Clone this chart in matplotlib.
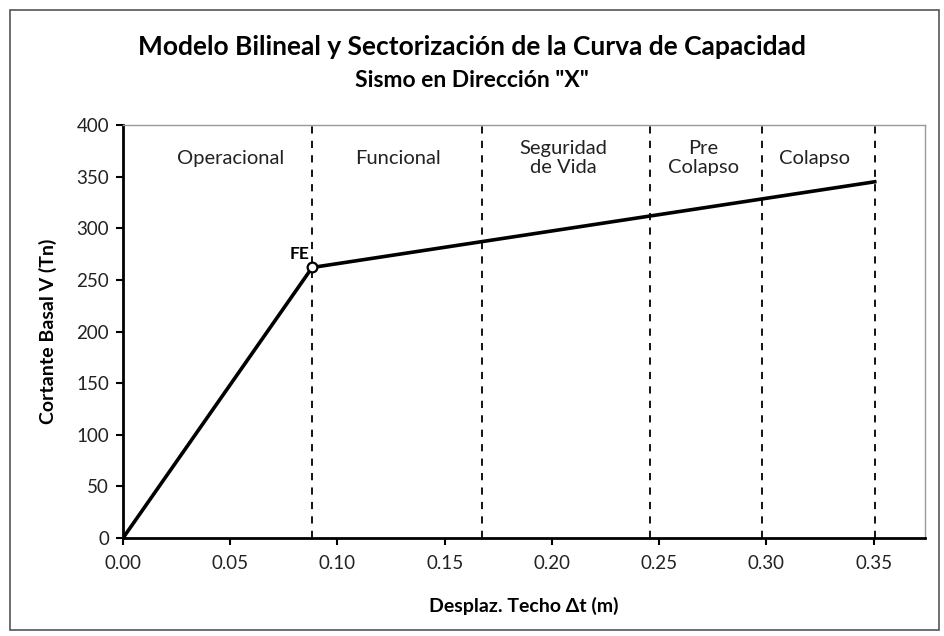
import matplotlib
matplotlib.use("Agg")
import matplotlib.pyplot as plt
from matplotlib.patches import Rectangle

plt.rcParams['font.family'] = ['Lato', 'DejaVu Sans']

# Data
curve_x = [0.0, 0.0882, 0.3505]
curve_y = [0.0, 262.0, 345.0]
fe_x, fe_y = 0.0882, 262.0
limits = [0.0882, 0.1673, 0.2455, 0.298, 0.3505]
zone_names = ["Operacional", "Funcional", "Seguridad\nde Vida", "Pre\nColapso", "Colapso"]
zone_x = [0.0504, 0.1283, 0.2053, 0.2707, 0.3224]
x_ticks = [0.00, 0.05, 0.10, 0.15, 0.20, 0.25, 0.30, 0.35]
y_ticks = [0, 50, 100, 150, 200, 250, 300, 350, 400]

fig = plt.figure(figsize=(9.44, 6.36), dpi=100)
ax = fig.add_axes([0.1303, 0.154, 0.8497, 0.6495])

for xv in limits:
    ax.axvline(xv, color='black', lw=1.3, ls=(0, (4, 4)), zorder=1)

ax.plot(curve_x, curve_y, color='black', lw=2.6, zorder=3)
ax.plot([fe_x], [fe_y], marker='o', ms=7, mfc='white', mec='black', mew=1.6, zorder=4)
ax.text(fe_x - 0.0012, fe_y + 5, "FE", ha='right', va='bottom', fontsize=12.5, fontweight='bold')

for name, xv in zip(zone_names, zone_x):
    ax.text(xv, 368, name, ha='center', va='center', fontsize=14.5, color='#222222', linespacing=1.15)

ax.set_xlim(0, 0.374)
ax.set_ylim(0, 400)
ax.set_xticks(x_ticks)
ax.set_xticklabels([f"{v:.2f}" for v in x_ticks])
ax.set_yticks(y_ticks)
ax.tick_params(axis='both', labelsize=13.5, direction='out', length=5, width=1.5, colors='black', labelcolor='#222222')
ax.tick_params(axis='x', pad=7)
ax.tick_params(axis='y', pad=5)

for s in ['left', 'bottom']:
    ax.spines[s].set_linewidth(2.0)
    ax.spines[s].set_color('black')
for s in ['top', 'right']:
    ax.spines[s].set_linewidth(1.0)
    ax.spines[s].set_color('#999999')

ax.set_xlabel("Desplaz. Techo Δt (m)", fontsize=14, fontweight='bold', labelpad=18)
ax.set_ylabel("Cortante Basal V (Tn)", fontsize=14, fontweight='bold', labelpad=14)

fig.text(0.5, 0.926, "Modelo Bilineal y Sectorización de la Curva de Capacidad",
         ha='center', va='center', fontsize=19, fontweight='bold')
fig.text(0.5, 0.874, 'Sismo en Dirección "X"', ha='center', va='center', fontsize=16.5, fontweight='bold')

fig.patches.append(Rectangle((0.011, 0.01), 0.984, 0.975, transform=fig.transFigure,
                             fill=False, ec='#555555', lw=1.2))

fig.savefig("out.png", dpi=100)
